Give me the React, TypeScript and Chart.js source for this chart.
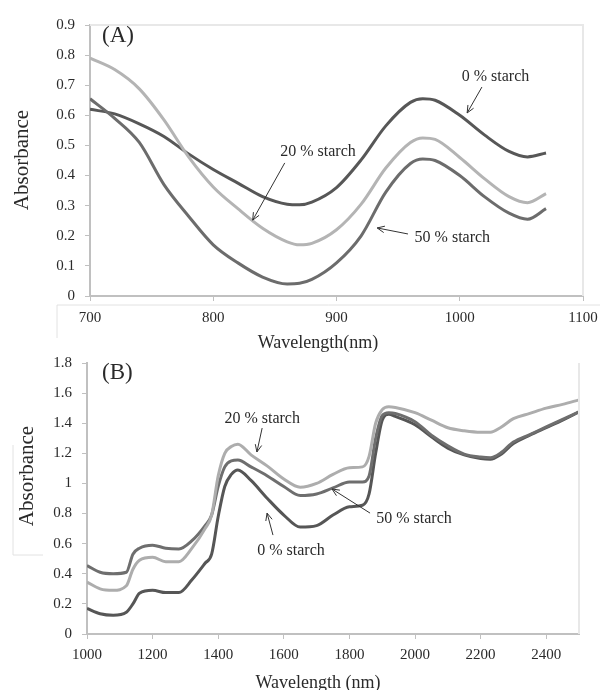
import { useEffect, useRef } from "react";
import { Chart, registerables } from "chart.js";

Chart.register(...registerables);

// ---------- Panel (A) data ----------
const waveA = [700, 720, 740, 760, 780, 800, 820, 840, 860, 870, 880, 900, 920, 940, 960, 970, 980, 1000, 1020, 1040, 1055, 1070];
const a0 = [0.62, 0.605, 0.572, 0.53, 0.472, 0.42, 0.375, 0.33, 0.305, 0.303, 0.312, 0.36, 0.452, 0.565, 0.643, 0.655, 0.65, 0.6, 0.535, 0.48, 0.462, 0.475];
const a20 = [0.79, 0.752, 0.688, 0.585, 0.462, 0.362, 0.29, 0.225, 0.18, 0.17, 0.175, 0.22, 0.305, 0.425, 0.51, 0.525, 0.52, 0.46, 0.39, 0.33, 0.31, 0.34];
const a50 = [0.655, 0.59, 0.51, 0.37, 0.265, 0.17, 0.11, 0.063, 0.04, 0.042, 0.055, 0.11, 0.2, 0.345, 0.44, 0.455, 0.45, 0.4, 0.33, 0.275, 0.255, 0.29];
const ticksAX = [700, 800, 900, 1000, 1100];
const ticksAY = [0, 0.1, 0.2, 0.3, 0.4, 0.5, 0.6, 0.7, 0.8, 0.9];

// ---------- Panel (B) data ----------
const waveB = [1000, 1040, 1080, 1120, 1140, 1160, 1200, 1240, 1280, 1320, 1360, 1380, 1400, 1420, 1440, 1460, 1500, 1550, 1600, 1650, 1700, 1750, 1800, 1840, 1860, 1880, 1900, 1920, 1940, 2000, 2050, 2100, 2150, 2200, 2230, 2260, 2300, 2350, 2400, 2450, 2500];
const b0 = [0.17, 0.135, 0.125, 0.145, 0.2, 0.27, 0.29, 0.275, 0.275, 0.36, 0.47, 0.53, 0.78, 0.98, 1.06, 1.09, 1.02, 0.9, 0.79, 0.71, 0.72, 0.79, 0.845, 0.855, 0.93, 1.2, 1.42, 1.46, 1.445, 1.39, 1.31, 1.235, 1.19, 1.165, 1.16, 1.19, 1.265, 1.32, 1.37, 1.42, 1.475];
const b20 = [0.345, 0.3, 0.29, 0.32, 0.43, 0.49, 0.51, 0.48, 0.48, 0.57, 0.7, 0.79, 1.05, 1.2, 1.245, 1.26, 1.19, 1.115, 1.03, 0.975, 1.0, 1.06, 1.105, 1.11, 1.18, 1.4, 1.49, 1.51, 1.505, 1.47, 1.42, 1.37, 1.35, 1.34, 1.34, 1.37, 1.43, 1.465, 1.5, 1.525, 1.555];
const b50 = [0.455, 0.41, 0.4, 0.41, 0.53, 0.57, 0.59, 0.57, 0.565, 0.62, 0.72, 0.79, 0.98, 1.11, 1.15, 1.155, 1.11, 1.05, 0.98, 0.92, 0.93, 0.97, 1.01, 1.01, 1.05, 1.3, 1.45, 1.47, 1.465, 1.41, 1.32, 1.25, 1.195, 1.175, 1.17, 1.2, 1.275, 1.325, 1.375, 1.425, 1.475];
const ticksBX = [1000, 1200, 1400, 1600, 1800, 2000, 2200, 2400];
const ticksBY = [0, 0.2, 0.4, 0.6, 0.8, 1, 1.2, 1.4, 1.6, 1.8];

// ---------- annotations (data coordinates) ----------
const labelsA = ["0 % starch", "20 % starch", "50 % starch"];
const labelPosA = [[1029, 0.728], [885, 0.478], [994, 0.193]];
const arrowsA = [[1018, 0.694, 1006, 0.608], [858, 0.442, 832, 0.252], [958, 0.206, 933, 0.226]];

const labelsB = ["20 % starch", "0 % starch", "50 % starch"];
const labelPosB = [[1534, 1.428], [1622, 0.551], [1997, 0.764]];
const arrowsB = [[1534, 1.368, 1518, 1.209], [1567, 0.657, 1549, 0.803], [1863, 0.803, 1747, 0.963]];

const FONT = "'Liberation Serif', 'Times New Roman', serif";
const AXIS = "#c0c0c0";
const TEXT = "#2a2a2a";

function drawArrow(ctx: CanvasRenderingContext2D, x1: number, y1: number, x2: number, y2: number) {
  ctx.beginPath();
  ctx.moveTo(x1, y1);
  ctx.lineTo(x2, y2);
  ctx.stroke();
  const ang = Math.atan2(y2 - y1, x2 - x1);
  const L = 8;
  const s = 0.42;
  ctx.beginPath();
  ctx.moveTo(x2 - L * Math.cos(ang - s), y2 - L * Math.sin(ang - s));
  ctx.lineTo(x2, y2);
  ctx.lineTo(x2 - L * Math.cos(ang + s), y2 - L * Math.sin(ang + s));
  ctx.stroke();
}

type PanelCfg = {
  h: number;
  padding: { left: number; right: number; top: number; bottom: number };
  yWidth: number;
  xHeight: number;
  xMin: number; xMax: number; xTicks: number[];
  yMin: number; yMax: number; yTicks: number[];
  tickSize: number;
  xPad: number; yPad: number;
  waves: number[];
  series: { data: number[]; color: string }[];
  labels: string[]; labelPos: number[][]; arrows: number[][];
  tag: string; tagPos: [number, number]; tagSize: number;
  yTitle: [number, number]; xTitle: [number, number]; xTitleText: string;
  topBorder: boolean;
  frame: number[][];
};

function makeChart(canvas: HTMLCanvasElement, c: PanelCfg) {
  const overlay = {
    id: "overlay",
    afterDraw(chart: any) {
      const ctx: CanvasRenderingContext2D = chart.ctx;
      const xs = chart.scales.x;
      const ys = chart.scales.y;
      const a = chart.chartArea;
      ctx.save();
      // plot border
      ctx.strokeStyle = "#e8e8e8";
      ctx.lineWidth = 2;
      ctx.beginPath();
      if (c.topBorder) {
        ctx.moveTo(a.left, a.top);
        ctx.lineTo(a.right, a.top);
      } else {
        ctx.moveTo(a.right, a.top);
      }
      ctx.lineTo(a.right, a.bottom);
      ctx.stroke();
      // frame artifacts
      ctx.strokeStyle = "#e2e2e2";
      ctx.lineWidth = 1;
      for (const f of c.frame) {
        ctx.beginPath();
        ctx.moveTo(f[0], f[1]);
        for (let i = 2; i < f.length; i += 2) ctx.lineTo(f[i], f[i + 1]);
        ctx.stroke();
      }
      // annotations
      ctx.fillStyle = TEXT;
      ctx.strokeStyle = "#333";
      ctx.lineWidth = 1;
      ctx.font = `16px ${FONT}`;
      ctx.textAlign = "center";
      ctx.textBaseline = "middle";
      c.labels.forEach((t, i) => {
        ctx.fillText(t, xs.getPixelForValue(c.labelPos[i][0]), ys.getPixelForValue(c.labelPos[i][1]));
        const ar = c.arrows[i];
        drawArrow(ctx, xs.getPixelForValue(ar[0]), ys.getPixelForValue(ar[1]), xs.getPixelForValue(ar[2]), ys.getPixelForValue(ar[3]));
      });
      // panel tag
      ctx.textAlign = "left";
      ctx.font = `${c.tagSize}px ${FONT}`;
      ctx.fillText(c.tag, c.tagPos[0], c.tagPos[1]);
      // axis titles
      ctx.textAlign = "center";
      ctx.font = `18px ${FONT}`;
      ctx.fillText(c.xTitleText, c.xTitle[0], c.xTitle[1]);
      ctx.save();
      ctx.translate(c.yTitle[0], c.yTitle[1]);
      ctx.rotate(-Math.PI / 2);
      ctx.font = `21px ${FONT}`;
      ctx.fillText("Absorbance", 0, 0);
      ctx.restore();
      ctx.restore();
    },
  };

  const fmt = (v: any) => String(Math.round(Number(v) * 10) / 10);

  return new Chart(canvas, {
    type: "line",
    data: {
      datasets: c.series.map((s) => ({
        data: c.waves.map((w, i) => ({ x: w, y: s.data[i] })),
        borderColor: s.color,
        borderWidth: 3,
        pointRadius: 0,
        fill: false,
        cubicInterpolationMode: "monotone" as const,
      })),
    },
    options: {
      responsive: false,
      maintainAspectRatio: false,
      animation: false,
      layout: { padding: c.padding },
      plugins: { legend: { display: false }, tooltip: { enabled: false } },
      scales: {
        x: {
          type: "linear",
          min: c.xMin,
          max: c.xMax,
          afterBuildTicks: (s: any) => { s.ticks = c.xTicks.map((v) => ({ value: v })); },
          ticks: { autoSkip: false, maxRotation: 0, font: { family: FONT, size: c.tickSize }, color: TEXT, padding: c.xPad, callback: (v: any) => String(v) },
          grid: { drawOnChartArea: false, drawTicks: true, tickLength: 5, color: AXIS, lineWidth: 1 },
          border: { color: AXIS, width: 2 },
          afterFit: (s: any) => { s.height = c.xHeight; s.paddingLeft = 0; s.paddingRight = 0; },
        },
        y: {
          type: "linear",
          min: c.yMin,
          max: c.yMax,
          afterBuildTicks: (s: any) => { s.ticks = c.yTicks.map((v) => ({ value: v })); },
          ticks: { autoSkip: false, font: { family: FONT, size: c.tickSize }, color: TEXT, padding: c.yPad, callback: fmt },
          grid: { drawOnChartArea: false, drawTicks: true, tickLength: 5, color: AXIS, lineWidth: 1 },
          border: { color: AXIS, width: 2 },
          afterFit: (s: any) => { s.width = c.yWidth; s.paddingTop = 0; s.paddingBottom = 0; },
        },
      },
    },
    plugins: [overlay],
  } as any);
}

const cfgA: PanelCfg = {
  h: 360,
  padding: { left: 0, right: 17, top: 25, bottom: 0 },
  yWidth: 90,
  xHeight: 64,
  xMin: 700, xMax: 1100, xTicks: ticksAX,
  yMin: 0, yMax: 0.9, yTicks: ticksAY,
  tickSize: 15,
  xPad: 8, yPad: 10,
  waves: waveA,
  series: [
    { data: a20, color: "#b4b4b4" },
    { data: a50, color: "#6c6c6c" },
    { data: a0, color: "#575757" },
  ],
  labels: labelsA, labelPos: labelPosA, arrows: arrowsA,
  tag: "(A)", tagPos: [102, 36], tagSize: 23,
  yTitle: [22, 160], xTitle: [318, 343], xTitleText: "Wavelength(nm)",
  topBorder: true,
  frame: [[600, 305, 57, 305, 57, 338]],
};

const cfgB: PanelCfg = {
  h: 345,
  padding: { left: 0, right: 21, top: 18, bottom: 0 },
  yWidth: 87,
  xHeight: 56,
  xMin: 1000, xMax: 2500, xTicks: ticksBX,
  yMin: 0, yMax: 1.8, yTicks: ticksBY,
  tickSize: 15,
  xPad: 7, yPad: 10,
  waves: waveB,
  series: [
    { data: b20, color: "#adadad" },
    { data: b50, color: "#6e6e6e" },
    { data: b0, color: "#565656" },
  ],
  labels: labelsB, labelPos: labelPosB, arrows: arrowsB,
  tag: "(B)", tagPos: [102, 28], tagSize: 23,
  yTitle: [27, 131], xTitle: [318, 338], xTitleText: "Wavelength (nm)",
  topBorder: false,
  frame: [[13, 100, 13, 210, 43, 210]],
};

function Panel({ cfg, top }: { cfg: PanelCfg; top: number }) {
  const ref = useRef<HTMLCanvasElement>(null);
  useEffect(() => {
    if (!ref.current) return;
    const ch = makeChart(ref.current, cfg);
    return () => ch.destroy();
  }, [cfg]);
  return (
    <canvas
      ref={ref}
      width={600}
      height={cfg.h}
      style={{ position: "absolute", left: 0, top, width: 600, height: cfg.h, display: "block" }}
    />
  );
}

export default function App() {
  return (
    <div style={{ position: "fixed", left: 0, top: 0, width: 600, height: 690, background: "#fff", overflow: "hidden" }}>
      <Panel cfg={cfgA} top={0} />
      <Panel cfg={cfgB} top={345} />
    </div>
  );
}
